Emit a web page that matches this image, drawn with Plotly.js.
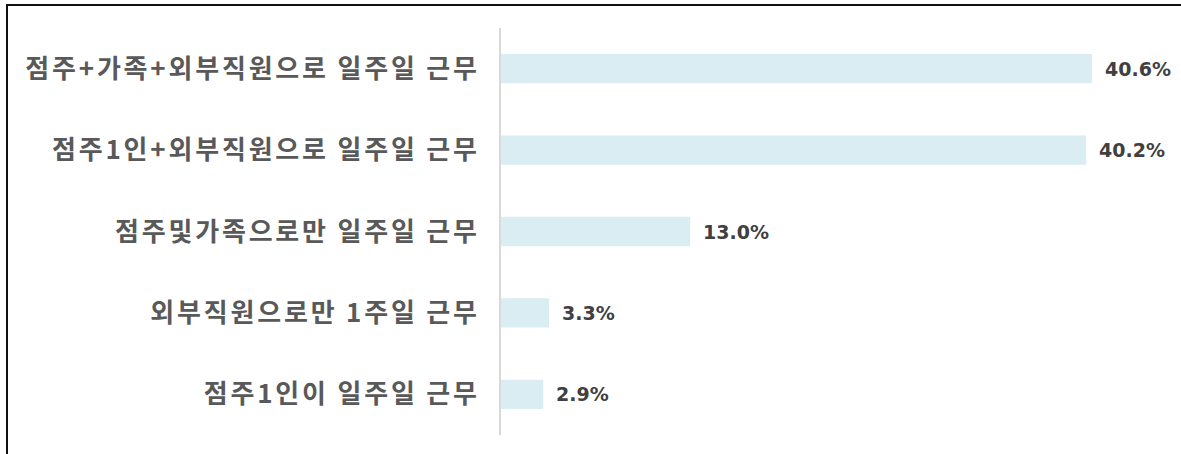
<!DOCTYPE html>
<html>
<head>
<meta charset="utf-8">
<script src="https://cdn.plot.ly/plotly-3.0.1.min.js"></script>
<style>
html, body { margin: 0; padding: 0; background: #fff; }
#wrap { position: relative; width: 1181px; height: 454px; overflow: hidden; }
#chart { position: absolute; left: 0; top: 0; width: 1181px; height: 454px; }
#frame { position: absolute; left: 6px; top: 4px; width: 1173px; height: 470px;
  border-top: 2px solid #111; border-left: 2px solid #111; border-right: 1px solid #c8c8c8;
  pointer-events: none; }
#chart .ytick text { letter-spacing: 2.8px; }
</style>
</head>
<body>
<div id="wrap">
  <div id="chart"></div>
  <div id="frame"></div>
</div>
<script>
const categories = [
  "점주+가족+외부직원으로 일주일 근무",
  "점주1인+외부직원으로 일주일 근무",
  "점주및가족으로만 일주일 근무",
  "외부직원으로만 1주일 근무",
  "점주1인이 일주일 근무"
];
const values = [40.6, 40.2, 13.0, 3.3, 2.9];
const valueLabels = ["40.6%", "40.2%", "13.0%", "3.3%", "2.9%"];

const trace = {
  type: 'bar',
  orientation: 'h',
  y: categories,
  x: values,
  marker: { color: '#daedf3' },
  hoverinfo: 'none'
};

const annotations = values.map((v, i) => ({
  x: v, y: categories[i], xref: 'x', yref: 'y',
  text: valueLabels[i], showarrow: false,
  xanchor: 'left', yanchor: 'middle', xshift: 11,
  font: { family: 'DejaVu Sans', size: 19, color: '#404040', weight: 'bold' }
}));

const layout = {
  width: 1181, height: 454,
  margin: { l: 501, r: 25, t: 28, b: 19, pad: 0 },
  paper_bgcolor: '#ffffff', plot_bgcolor: '#ffffff',
  showlegend: false,
  bargap: 0.64,
  xaxis: { range: [0, 45], showgrid: false, zeroline: false, showticklabels: false, showline: false, fixedrange: true },
  yaxis: {
    autorange: 'reversed', showgrid: false, zeroline: false,
    showline: true, linecolor: '#d9d9d9', linewidth: 2,
    ticks: '', ticklabelstandoff: 14,
    tickfont: { family: 'Noto Sans CJK KR', size: 26, color: '#595959', weight: 'bold' }
  },
  annotations: annotations
};

Plotly.newPlot('chart', [trace], layout, { displayModeBar: false, staticPlot: true });
</script>
</body>
</html>
